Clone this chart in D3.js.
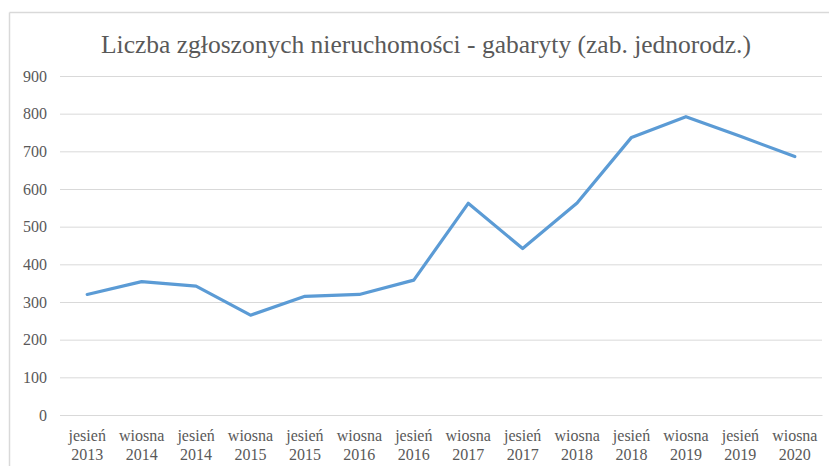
<!DOCTYPE html>
<html>
<head>
<meta charset="utf-8">
<script src="https://cdn.jsdelivr.net/npm/d3@7"></script>
<style>
  body { margin: 0; background: #fff; }
</style>
</head>
<body>
<div id="my_dataviz"></div>
<script>
// data
const seasons = ["jesień", "wiosna", "jesień", "wiosna", "jesień", "wiosna", "jesień",
                 "wiosna", "jesień", "wiosna", "jesień", "wiosna", "jesień", "wiosna"];
const years = ["2013", "2014", "2014", "2015", "2015", "2016", "2016",
               "2017", "2017", "2018", "2018", "2019", "2019", "2020"];
const values = [320, 354, 342, 265, 315, 320, 358, 562, 442, 563, 737, 792, 740, 686];
const yTicks = [0, 100, 200, 300, 400, 500, 600, 700, 800, 900];
const title = "Liczba zgłoszonych nieruchomości - gabaryty (zab. jednorodz.)";

const FONT = "'Liberation Serif', 'Times New Roman', Times, serif";
const W = 829, H = 466;
const margin = {top: 76, right: 7, bottom: 51, left: 60},
  width = W - margin.left - margin.right,
  height = H - margin.top - margin.bottom;

const root = d3.select("#my_dataviz")
  .append("svg")
  .attr("width", W)
  .attr("height", H)
  .attr("font-family", FONT);

// chart frame (top + left edges visible)
root.append("line")
  .attr("x1", 9.5).attr("x2", W).attr("y1", 12.5).attr("y2", 12.5)
  .attr("stroke", "#d9d9d9").attr("stroke-width", 1.5);
root.append("line")
  .attr("x1", 9.5).attr("x2", 9.5).attr("y1", 12.5).attr("y2", H)
  .attr("stroke", "#d9d9d9").attr("stroke-width", 1.5);

root.append("text")
  .attr("x", 426)
  .attr("y", 53)
  .attr("text-anchor", "middle")
  .style("font-family", FONT)
  .style("font-size", "25.5px")
  .attr("fill", "#595959")
  .text(title);

const svg = root.append("g")
  .attr("transform", `translate(${margin.left},${margin.top})`);

const idx = d3.range(values.length);

const x = d3.scaleBand()
  .range([0, width])
  .domain(idx)
  .padding(0);

const y = d3.scaleLinear()
  .domain([0, 900])
  .range([height, 0]);

// gridlines + y labels
const yAxis = svg.append("g")
  .call(d3.axisLeft(y).tickValues(yTicks).tickSize(-width).tickPadding(13));
yAxis.attr("font-family", FONT);
yAxis.select(".domain").remove();
yAxis.selectAll(".tick line").attr("stroke", "#d9d9d9").attr("stroke-width", 1);
yAxis.selectAll(".tick text")
  .style("font-family", FONT)
  .style("font-size", "16px")
  .attr("fill", "#595959");

// x labels (two lines)
const xAxis = svg.append("g")
  .attr("transform", `translate(0, ${height})`)
  .call(d3.axisBottom(x).tickSize(0).tickFormat(""));
xAxis.attr("font-family", FONT);
xAxis.select(".domain").attr("stroke", "#d9d9d9");
xAxis.selectAll(".tick").each(function(d) {
  const t = d3.select(this).select("text")
    .attr("y", 0)
    .attr("dy", 0)
    .style("font-family", FONT)
    .style("font-size", "16px")
    .attr("fill", "#595959");
  t.append("tspan").attr("x", 0).attr("y", 26).text(seasons[d]);
  t.append("tspan").attr("x", 0).attr("y", 45).text(years[d]);
});

// line
const line = d3.line()
  .x(d => x(d) + x.bandwidth() / 2)
  .y(d => y(values[d]));

svg.append("path")
  .datum(idx)
  .attr("fill", "none")
  .attr("stroke", "#5b9bd5")
  .attr("stroke-width", 3.2)
  .attr("stroke-linejoin", "round")
  .attr("stroke-linecap", "round")
  .attr("d", line);
</script>
</body>
</html>
